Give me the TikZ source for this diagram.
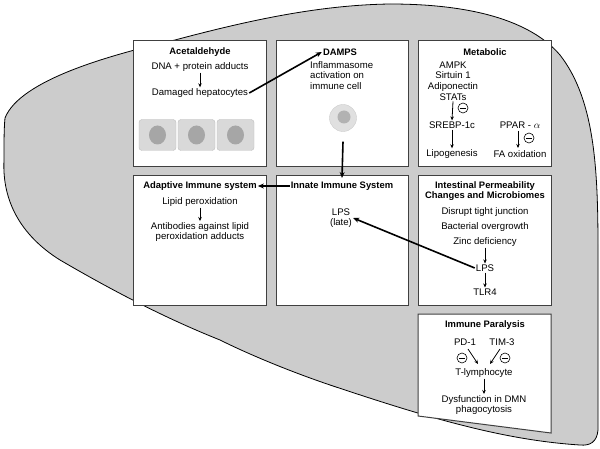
\documentclass[tikz,border=0pt]{standalone}
\usepackage{fontspec}
\setmainfont{Liberation Sans}
\usetikzlibrary{arrows.meta}
\begin{document}
\begin{tikzpicture}[x=1pt,y=-1pt,
  box/.style={draw=black!75,line width=1pt,fill=white},
  t/.style={font=\fontsize{9.6}{10.6}\selectfont,align=center,inner sep=1pt},
  h/.style={font=\bfseries\fontsize{9.4}{10.6}\selectfont,align=center,inner sep=1pt},
  sa/.style={-{Stealth[length=4pt,width=3.5pt]},line width=0.8pt},
  la/.style={-{Stealth[length=6pt,width=5pt]},line width=1.6pt},
  cell/.style={draw=black!25,fill=black!15,rounded corners=3pt},
  nuc/.style={fill=black!35,draw=none},
  neg/.style={circle,draw,line width=0.6pt,minimum size=10,inner sep=0,
    path picture={\draw[line width=0.6pt] ([xshift=-2.8pt]path picture bounding box.center) -- ([xshift=2.8pt]path picture bounding box.center);}}]
\useasboundingbox (0,0) rectangle (600,449);
% liver
\draw[fill=black!20,line width=0.8pt] (5,118) .. controls (20,80) and (110,55) .. (175,40)
  .. controls (250,20) and (320,5) .. (390,4)
  .. controls (470,4) and (530,20) .. (560,55)
  .. controls (595,100) and (598,170) .. (598,250)
  -- (598,430) .. controls (597,442) and (590,446) .. (580,445)
  .. controls (500,440) and (420,415) .. (330,385)
  .. controls (280,368) and (240,350) .. (220,340)
  .. controls (170,320) and (120,295) .. (60,260)
  .. controls (20,235) and (2,200) .. (4,160) .. controls (4,140) and (4,128) .. (5,118) -- cycle;
% boxes
\node[box,minimum width=133,minimum height=126,anchor=north west] (b1) at (133,40) {};
\node[box,minimum width=132,minimum height=126,anchor=north west] (b2) at (276,40) {};
\node[box,minimum width=133,minimum height=126,anchor=north west] (b3) at (418,40) {};
\node[box,minimum width=133,minimum height=130,anchor=north west] (b4) at (133,175) {};
\node[box,minimum width=132,minimum height=130,anchor=north west] (b5) at (276,175) {};
\node[box,minimum width=133,minimum height=130,anchor=north west] (b6) at (418,175) {};
\draw[box] (418,314) -- (551,314) -- (551,433) -- (418,416) -- cycle;
% box1
\node[h] (acet) at (200,52) {Acetaldehyde};
\node[t] (dna) at (200,67) {DNA + protein adducts};
\node[t] (dam) at (200,93) {Damaged hepatocytes};
\draw[sa] (dna.south) -- (dam.north);
\foreach \i/\x in {1/157.5,2/196.5,3/235.5}{
  \node[cell,minimum width=37,minimum height=31] (c\i) at (\x,135) {};
  \fill[nuc] (\x,135) ellipse (8.5 and 9.5);}
% box2
\node[h] (damps) at (340,52) {DAMPS};
\node[t,align=left,anchor=north west] (infl) at (309,60) {Inflammasome\\activation on\\immune cell};
\node[circle,draw=black!20,fill=black!12,minimum size=27,inner sep=0] (ic) at (343,118) {};
\fill[black!30] (344,117) circle (6.5);
\draw[la] (dam.east) -- (damps.west);
% box3
\node[h] (met) at (485,52) {Metabolic};
\node[t] (ampk) at (453,81) {AMPK\\Sirtuin 1\\Adiponectin\\STATs};
\node[t] (sreb) at (452,125) {SREBP-1c};
\node[t] (lipo) at (452,154) {Lipogenesis};
\node[t] (ppar) at (520,125) {PPAR - $\alpha$};
\node[t] (fa) at (520,154) {FA oxidation};
\draw[sa] (ampk.south) -- (sreb.north);
\draw[sa] (sreb.south) -- (lipo.north);
\draw[sa] (518,131) -- (518,148);
\node[neg] (m1) at (463,108) {};
\node[neg] (m2) at (529,138) {};
% row 2
\node[h] (adap) at (200,186) {Adaptive Immune system};
\node[h] (innate) at (342,186) {Innate Immune System};
\draw[la] (ic.south) ++(0,10) -- (342,178);
\draw[la] (innate.west) -- (adap.east);
\node[t] (lip) at (200,202) {Lipid peroxidation};
\node[t] (anti) at (200,232) {Antibodies against lipid\\peroxidation adducts};
\draw[sa] (lip.south) -- (anti.north);
\node[t] (lpsl) at (341,218) {LPS\\(late)};
\node[h] (intes) at (485,191) {Intestinal Permeability\\Changes and Microbiomes};
\node[t] (dis) at (485,212) {Disrupt tight junction};
\node[t] (bac) at (485,227) {Bacterial overgrowth};
\node[t] (zinc) at (485,242) {Zinc deficiency};
\node[t] (lps) at (485,268) {LPS};
\node[t] (tlr) at (485,292) {TLR4};
\draw[sa] (zinc.south) -- (lps.north);
\draw[sa] (lps.south) -- (tlr.north);
\draw[la] (lps.west) -- (lpsl.east);
% immune paralysis
\node[h] (ip) at (485,325) {Immune Paralysis};
\node[t] (pd) at (465,342) {PD-1};
\node[t] (tim) at (502,342) {TIM-3};
\node[t] (tl) at (484,373) {T-lymphocyte};
\node[t] (dys) at (484,405) {Dysfunction in DMN\\phagocytosis};
\draw[sa] (468,349) -- (478,364);
\draw[sa] (500,349) -- (490,364);
\draw[sa] (tl.south) -- (dys.north);
\node[neg] (m3) at (462,358) {};
\node[neg] (m4) at (505,358) {};
\end{tikzpicture}
\end{document}
